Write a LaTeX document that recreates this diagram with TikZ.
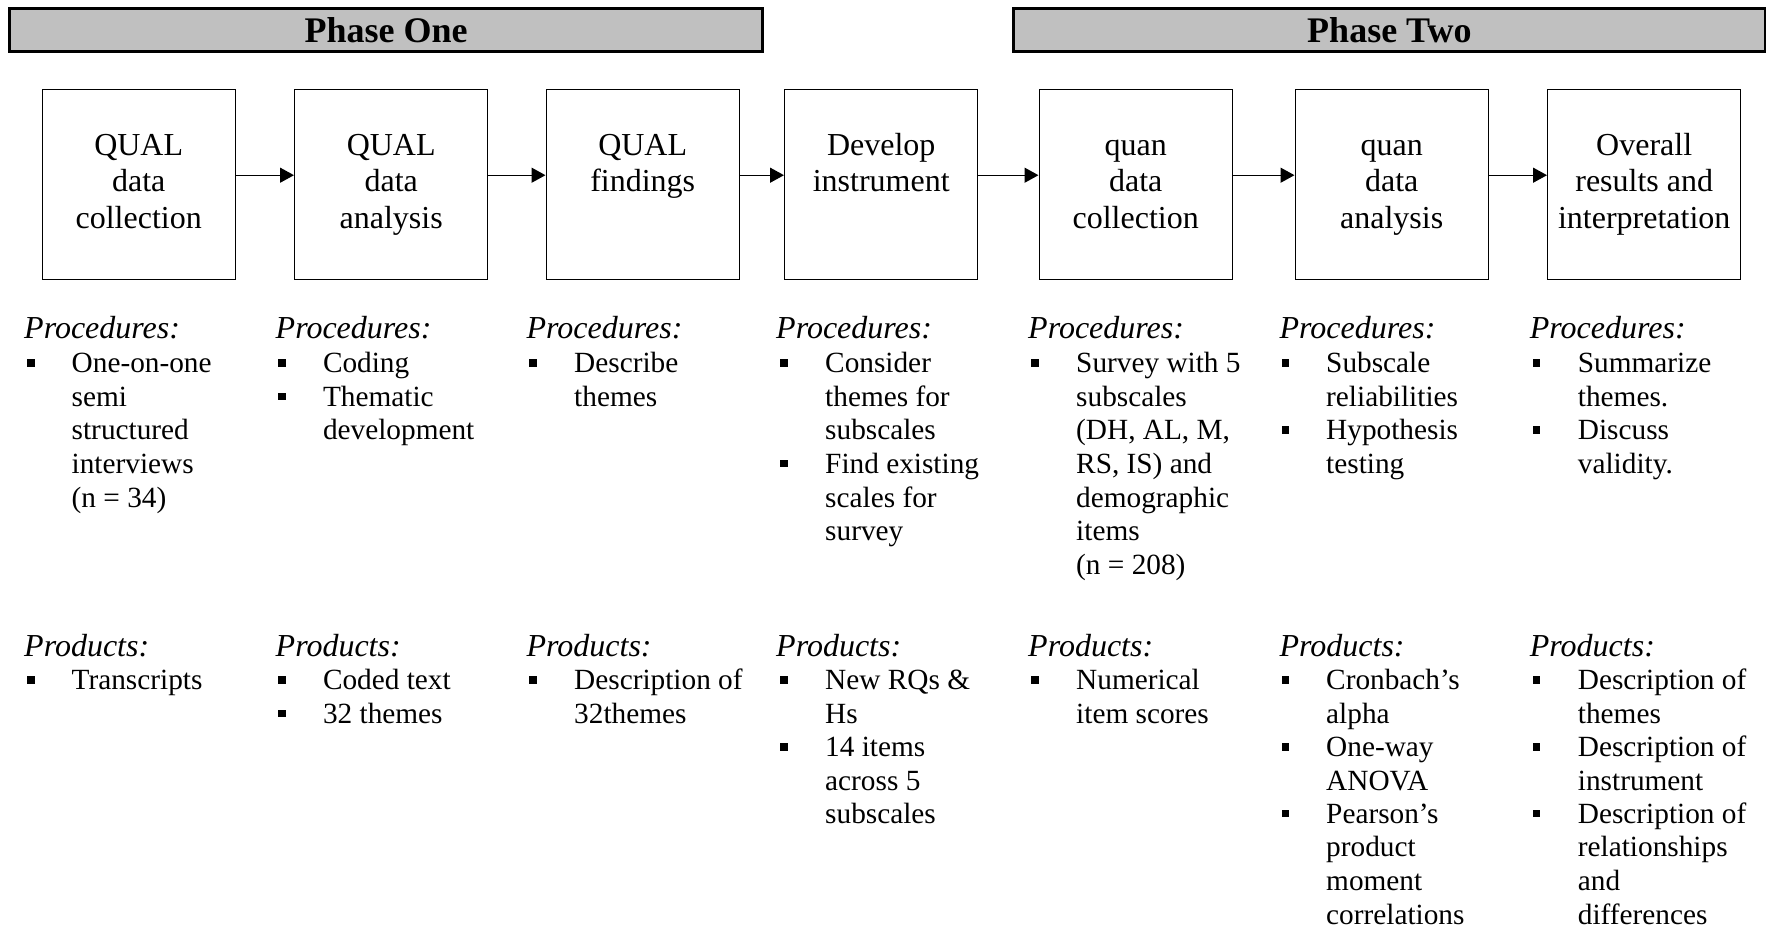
\documentclass[tikz,border=0pt]{standalone}
\usepackage{fontspec}
\setmainfont{Liberation Serif}
\usetikzlibrary{arrows.meta,calc}
\definecolor{phasegray}{RGB}{192,192,192}
\newcommand{\mystrutA}{\rule{0pt}{26pt}}
\newcommand{\mystrutB}{\rule{0pt}{28pt}}
\tikzset{
  phase/.style={draw, line width=2.7pt, fill=phasegray, inner sep=0pt, minimum height=42.8pt, font=\fontsize{36}{40}\selectfont\bfseries},
  stage/.style={draw, line width=1.4pt, minimum width=193pt, minimum height=190pt, inner sep=0pt, anchor=north west},
  stagetxt/.style={align=center, inner sep=0pt, anchor=north, font=\fontsize{32}{36.7}\selectfont},
  flow/.style={-{Triangle[length=14pt,width=15pt]}, line width=1.4pt},
  head/.style={anchor=base west, inner sep=0pt, font=\fontsize{32}{33.6}\selectfont\itshape},
  item/.style={anchor=north west, inner sep=0pt, align=left, font=\fontsize{29.3}{33.6}\selectfont},
  dot/.style={fill=black, draw=none, rectangle, minimum size=7.5pt, inner sep=0pt}
}
\begin{document}
\begin{tikzpicture}[x=1pt,y=-1pt]
\useasboundingbox (0,0) rectangle (1766,932);
% phase bars
\node[phase, minimum width=752.8pt] (p1) at (386.1,29.9) {Phase One};
\node[phase, minimum width=751.8pt] (p2) at (1389.4,29.9) {Phase Two};
% stage boxes
\node[stage] (b1) at (41.5,88.5) {};
\node[stage] (b2) at (294,88.5) {};
\node[stage] (b3) at (545.5,88.5) {};
\node[stage] (b4) at (784,88.5) {};
\node[stage] (b5) at (1038.5,88.5) {};
\node[stage] (b6) at (1294.5,88.5) {};
\node[stage] (b7) at (1547,88.5) {};
\node[stagetxt] (t1) at ($(b1.north)+(0,38.5)$) {\mystrutB QUAL\\data\\collection};
\node[stagetxt] (t2) at ($(b2.north)+(0,38.5)$) {\mystrutB QUAL\\data\\analysis};
\node[stagetxt] (t3) at ($(b3.north)+(0,38.5)$) {\mystrutB QUAL\\findings};
\node[stagetxt] (t4) at ($(b4.north)+(0,38.5)$) {\mystrutB Develop\\instrument};
\node[stagetxt] (t5) at ($(b5.north)+(0,38.5)$) {\mystrutB quan\\data\\collection};
\node[stagetxt] (t6) at ($(b6.north)+(0,38.5)$) {\mystrutB quan\\data\\analysis};
\node[stagetxt] (t7) at ($(b7.north)+(0,38.5)$) {\mystrutB Overall\\results and\\interpretation};
% arrows
\draw[flow] ($(b1.east)+(0,-9)$) -- ($(b2.west)+(0,-9)$);
\draw[flow] ($(b2.east)+(0,-9)$) -- ($(b3.west)+(0,-9)$);
\draw[flow] ($(b3.east)+(0,-9)$) -- ($(b4.west)+(0,-9)$);
\draw[flow] ($(b4.east)+(0,-9)$) -- ($(b5.west)+(0,-9)$);
\draw[flow] ($(b5.east)+(0,-9)$) -- ($(b6.west)+(0,-9)$);
\draw[flow] ($(b6.east)+(0,-9)$) -- ($(b7.west)+(0,-9)$);
% ---------- column 1 ----------
\node[head] (h1a) at (24,338.5) {Procedures:};
\node[dot] (d1a) at (31,362.8) {};
\node[item] (i1a) at (71.5,346.5) {\mystrutA One-on-one\\semi\\structured\\interviews\\(n = 34)};
\node[head] (h1b) at (24,656) {Products:};
\node[dot] (d1b) at (31,680) {};
\node[item] (i1b) at (71.5,663.5) {\mystrutA Transcripts};
% ---------- column 2 ----------
\node[head] (h2a) at (275.5,338.5) {Procedures:};
\node[dot] (d2a) at (282,362.8) {};
\node[item] (i2a) at (322.8,346.5) {\mystrutA Coding};
\node[dot] (d2b) at (282,396.4) {};
\node[item] (i2b) at (322.8,380.1) {\mystrutA Thematic\\development};
\node[head] (h2b) at (275.5,656) {Products:};
\node[dot] (d2c) at (282,680) {};
\node[item] (i2c) at (322.8,663.5) {\mystrutA Coded text};
\node[dot] (d2d) at (282,713.4) {};
\node[item] (i2d) at (322.8,696.9) {\mystrutA 32 themes};
% ---------- column 3 ----------
\node[head] (h3a) at (526.4,338.5) {Procedures:};
\node[dot] (d3a) at (533,362.8) {};
\node[item] (i3a) at (574,346.5) {\mystrutA Describe\\themes};
\node[head] (h3b) at (526.4,656) {Products:};
\node[dot] (d3b) at (533,680) {};
\node[item] (i3b) at (574,663.5) {\mystrutA Description of\\32themes};
% ---------- column 4 ----------
\node[head] (h4a) at (776,338.5) {Procedures:};
\node[dot] (d4a) at (784,362.8) {};
\node[item] (i4a) at (825,346.5) {\mystrutA Consider\\themes for\\subscales};
\node[dot] (d4b) at (784,463.6) {};
\node[item] (i4b) at (825,447.3) {\mystrutA Find existing\\scales for\\survey};
\node[head] (h4b) at (776,656) {Products:};
\node[dot] (d4c) at (784,680) {};
\node[item] (i4c) at (825,663.5) {\mystrutA New RQs \&\\Hs};
\node[dot] (d4d) at (784,746.8) {};
\node[item] (i4d) at (825,730.3) {\mystrutA 14 items\\across 5\\subscales};
% ---------- column 5 ----------
\node[head] (h5a) at (1028,338.5) {Procedures:};
\node[dot] (d5a) at (1035,362.8) {};
\node[item] (i5a) at (1076,346.5) {\mystrutA Survey with 5\\subscales\\(DH, AL, M,\\RS, IS) and\\demographic\\items\\(n = 208)};
\node[head] (h5b) at (1028,656) {Products:};
\node[dot] (d5b) at (1035,680) {};
\node[item] (i5b) at (1076,663.5) {\mystrutA Numerical\\item scores};
% ---------- column 6 ----------
\node[head] (h6a) at (1279.4,338.5) {Procedures:};
\node[dot] (d6a) at (1285.5,362.8) {};
\node[item] (i6a) at (1326,346.5) {\mystrutA Subscale\\reliabilities};
\node[dot] (d6b) at (1285.5,430) {};
\node[item] (i6b) at (1326,413.7) {\mystrutA Hypothesis\\testing};
\node[head] (h6b) at (1279.4,656) {Products:};
\node[dot] (d6c) at (1285.5,680) {};
\node[item] (i6c) at (1326,663.5) {\mystrutA Cronbach’s\\alpha};
\node[dot] (d6d) at (1285.5,746.8) {};
\node[item] (i6d) at (1326,730.3) {\mystrutA One-way\\ANOVA};
\node[dot] (d6e) at (1285.5,813.6) {};
\node[item] (i6e) at (1326,797.1) {\mystrutA Pearson’s\\product\\moment\\correlations};
% ---------- column 7 ----------
\node[head] (h7a) at (1529.7,338.5) {Procedures:};
\node[dot] (d7a) at (1536.5,362.8) {};
\node[item] (i7a) at (1577.7,346.5) {\mystrutA Summarize\\themes.};
\node[dot] (d7b) at (1536.5,430) {};
\node[item] (i7b) at (1577.7,413.7) {\mystrutA Discuss\\validity.};
\node[head] (h7b) at (1529.7,656) {Products:};
\node[dot] (d7c) at (1536.5,680) {};
\node[item] (i7c) at (1577.7,663.5) {\mystrutA Description of\\themes};
\node[dot] (d7d) at (1536.5,746.8) {};
\node[item] (i7d) at (1577.7,730.3) {\mystrutA Description of\\instrument};
\node[dot] (d7e) at (1536.5,813.6) {};
\node[item] (i7e) at (1577.7,797.1) {\mystrutA Description of\\relationships\\and\\differences};
\end{tikzpicture}
\end{document}
